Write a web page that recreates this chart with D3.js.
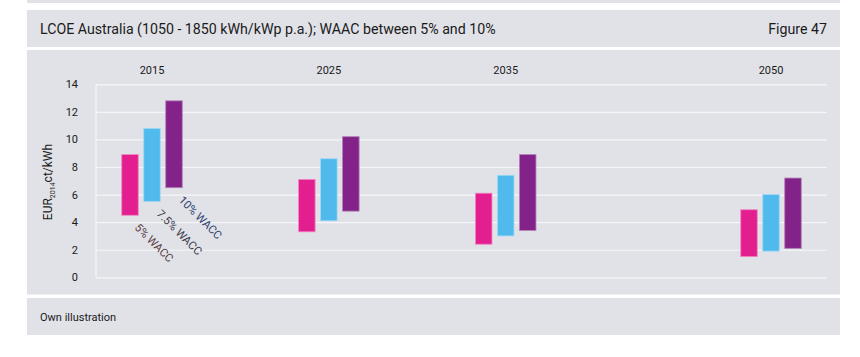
<!DOCTYPE html>
<html><head><meta charset="utf-8">
<script src="https://cdn.jsdelivr.net/npm/d3@7"></script>
<style>
html,body{margin:0;padding:0;background:#fff;}
text{font-family:Roboto,"Open Sans",sans-serif;}
</style></head>
<body>
<svg id="c" width="860" height="357"></svg>
<script>
const years = [2015, 2025, 2035, 2050];
const seriesNames = ["5% WACC", "7.5% WACC", "10% WACC"];
const low5  = [4.5, 3.3, 2.4, 1.5];
const high5 = [8.9, 7.1, 6.1, 4.9];
const low75  = [5.5, 4.1, 3.0, 1.9];
const high75 = [10.8, 8.6, 7.4, 6.0];
const low10  = [6.5, 4.8, 3.4, 2.1];
const high10 = [12.8, 10.2, 8.9, 7.2];
const yTicks = [0, 2, 4, 6, 8, 10, 12, 14];
const title = "LCOE Australia (1050 - 1850 kWh/kWp p.a.); WAAC between 5% and 10%";
const figLabel = "Figure 47";
const source = "Own illustration";

const colors = ["#e31f8f", "#4fbaeb", "#83238a"];
const strokes = ["#ef86c2", "#9fd9f5", "#b27fb6"];
const labelColors = ["#5b4040", "#3a3a48", "#2f4470"];
const lows = [low5, low75, low10];
const highs = [high5, high75, high10];

const svg = d3.select("#c");
const panel = "#e1e2e8";

// panels
svg.append("rect").attr("x",27).attr("y",0).attr("width",813).attr("height",3).attr("fill",panel);
svg.append("rect").attr("x",27).attr("y",10).attr("width",813).attr("height",37).attr("fill",panel);
svg.append("rect").attr("x",27).attr("y",50).attr("width",813).attr("height",244.5).attr("fill",panel);
svg.append("rect").attr("x",27).attr("y",298).attr("width",813).attr("height",37).attr("fill",panel);

svg.append("text").attr("x",40).attr("y",34).attr("font-size",14.2).attr("fill","#1a1a1a").text(title);
svg.append("text").attr("x",827).attr("y",34).attr("text-anchor","end").attr("font-size",14.2).attr("fill","#1a1a1a").text(figLabel);
svg.append("text").attr("x",40).attr("y",321).attr("font-size",11).attr("fill","#1a1a1a").text(source);

const y = d3.scaleLinear().domain([0,14]).range([277.3, 84.3]);
const x = d3.scaleLinear().domain([2015, 2050]).range([152, 771]);
const off = d3.scalePoint().domain(seriesNames).range([-22, 22]);
const bw = 16.5;
const left = 96, right = 827;

// grid
const yAxis = d3.axisLeft(y).tickValues(yTicks).tickSize(-(right-left)).tickPadding(18).tickFormat(d3.format("d"));
const ga = svg.append("g").attr("transform",`translate(${left},0)`).call(yAxis);
ga.select(".domain").remove();
ga.selectAll(".tick line").attr("stroke","#f6f6f9").attr("stroke-width",1.2);
ga.selectAll(".tick text").attr("font-size",11).attr("fill","#1a1a1a").attr("font-family","Roboto,sans-serif");
svg.append("line").attr("x1",left).attr("x2",left).attr("y1",y(14)).attr("y2",y(0)).attr("stroke","#f6f6f9").attr("stroke-width",1.2);

// category labels
svg.selectAll("text.cat").data(years).enter().append("text").attr("class","cat")
  .attr("x",d=>x(d)).attr("y",74).attr("text-anchor","middle").attr("font-size",11).attr("fill","#1a1a1a").text(d=>d);

// bars
seriesNames.forEach((s,si)=>{
  svg.selectAll(null).data(years).enter().append("rect")
    .attr("x",(d,i)=>x(d)+off(s)-bw/2)
    .attr("y",(d,i)=>y(highs[si][i]))
    .attr("width",bw)
    .attr("height",(d,i)=>y(lows[si][i])-y(highs[si][i]))
    .attr("fill",colors[si]).attr("stroke",strokes[si]).attr("stroke-width",0.8);
});

// series labels under 2015 bars
seriesNames.forEach((s,si)=>{
  const lx = x(years[0]) + off(s) + 4;
  const ly = y(lows[si][0]) + 13;
  svg.append("text").attr("transform",`translate(${lx},${ly}) rotate(45)`)
    .attr("font-size",11.3).attr("fill",labelColors[si]).text(s);
});

// y title
const yt = svg.append("text").attr("transform","translate(52,182) rotate(-90)").attr("text-anchor","middle").attr("font-size",12).attr("fill","#1a1a1a");
yt.append("tspan").text("EUR");
yt.append("tspan").attr("font-size",7).attr("dy",3).text("2014");
yt.append("tspan").attr("dy",-3).text("ct/kWh");
</script>
</body></html>
